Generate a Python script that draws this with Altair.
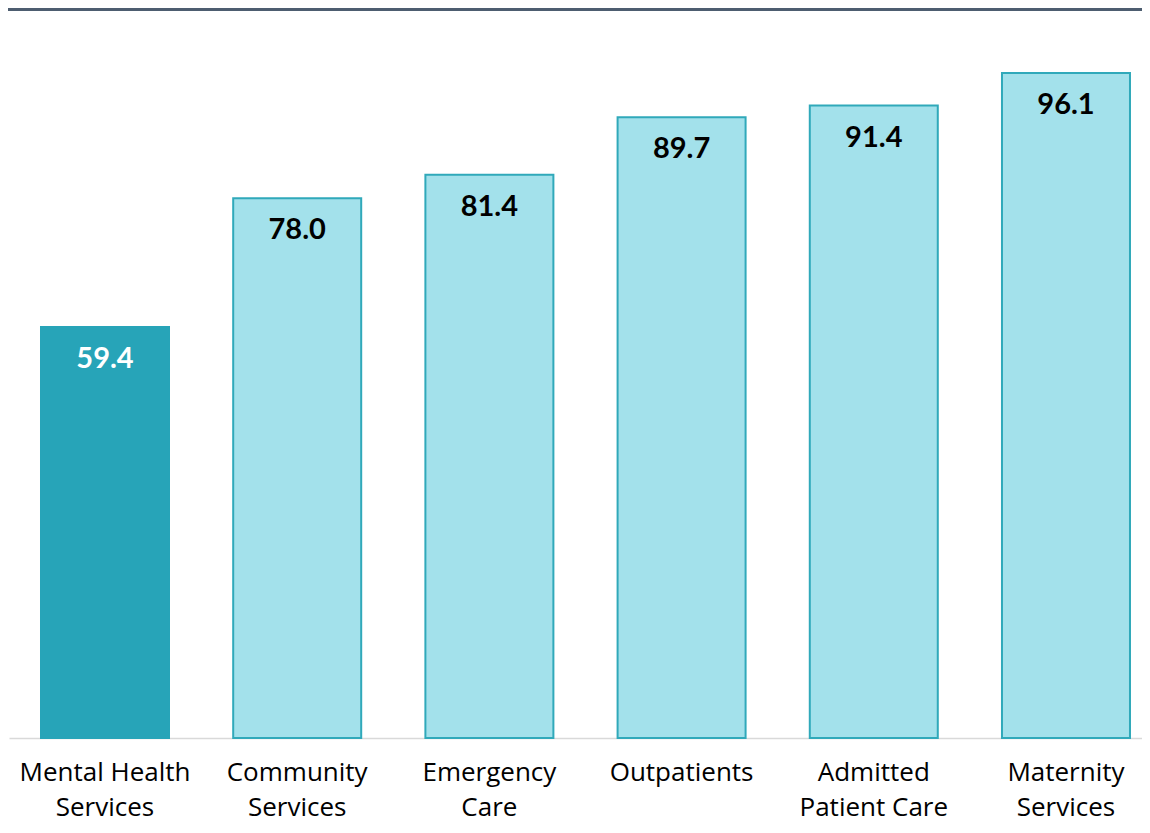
import altair as alt
import pandas as pd

categories = ["Mental Health Services", "Community Services", "Emergency Care",
              "Outpatients", "Admitted Patient Care", "Maternity Services"]
label_lines = ["Mental Health|Services", "Community|Services", "Emergency|Care",
               "Outpatients", "Admitted|Patient Care", "Maternity|Services"]
values = [59.4, 78.0, 81.4, 89.7, 91.4, 96.1]
highlight = [True, False, False, False, False, False]

df = pd.DataFrame({"cat": label_lines, "value": values, "hi": highlight})

x = alt.X("cat:N", sort=label_lines, title=None,
          scale=alt.Scale(paddingInner=0.334, paddingOuter=0.1145, align=0.727),
          axis=alt.Axis(labelExpr="split(datum.label, '|')", labelAngle=0,
                        labelFontSize=26, labelFont="Open Sans", labelColor="#000000",
                        labelPadding=21, labelLineHeight=35, ticks=False,
                        labelBaseline="top",
                        domainColor="#d9d9d9", domainWidth=1.5, grid=False))
y = alt.Y("value:Q", scale=alt.Scale(domain=[0, 105.5], nice=False), axis=None)

bars = alt.Chart(df).mark_bar(strokeWidth=2).encode(
    x=x, y=y,
    fill=alt.condition("datum.hi", alt.value("#27a4b8"), alt.value("#a3e1eb")),
    stroke=alt.condition("datum.hi", alt.value("#27a4b8"), alt.value("#30a9ba")),
)
text = alt.Chart(df).mark_text(baseline="middle", dy=32, fontSize=29, font="Lato",
                               fontWeight="bold").encode(
    x=x, y=y,
    text=alt.Text("value:Q", format=".1f"),
    color=alt.condition("datum.hi", alt.value("#ffffff"), alt.value("#000000")),
)
topline = alt.Chart(df).mark_rule(color="#4d5d70", strokeWidth=3).encode(
    x=alt.value(-2), x2=alt.value(1140), y=alt.value(1.5))

chart = alt.layer(bars, text, topline).properties(
    width=1133, height=730,
    padding={"left": 1, "top": 0, "right": 0, "bottom": 88},
    autosize=alt.AutoSizeParams(type="none"),
).configure_view(stroke=None)

chart.save("out.html", embed_options={"renderer": "svg", "actions": False})
